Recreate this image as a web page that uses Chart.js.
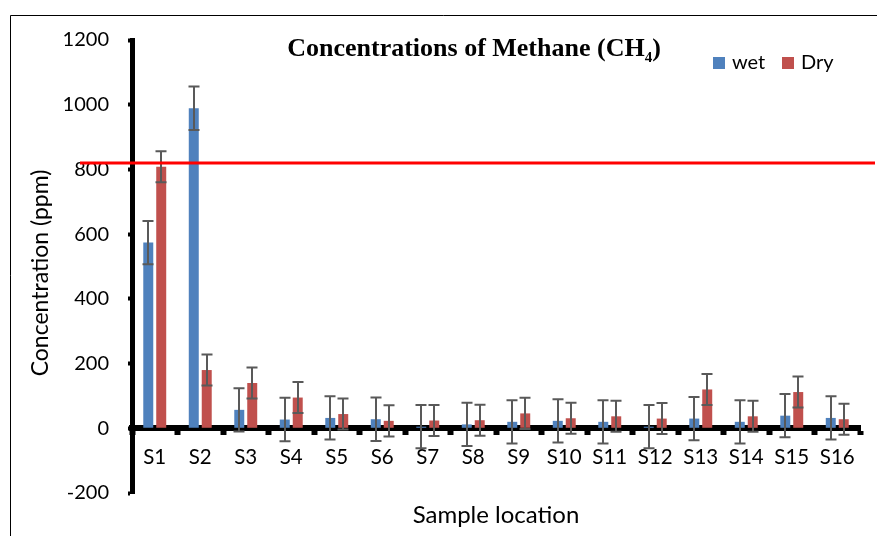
<!DOCTYPE html>
<html>
<head>
<meta charset="utf-8">
<title>Concentrations of Methane (CH4)</title>
<script src="https://cdn.jsdelivr.net/npm/chart.js@4.4.1/dist/chart.umd.min.js"></script>
<style>
  html, body { margin: 0; padding: 0; background: #fff; }
  canvas { display: block; }
</style>
</head>
<body>
<canvas id="methaneChart" width="877" height="536"></canvas>
<script>
// sample sites and measured methane (ppm)
const sites = ['S1', 'S2', 'S3', 'S4', 'S5', 'S6', 'S7', 'S8', 'S9', 'S10', 'S11', 'S12', 'S13', 'S14', 'S15', 'S16'];
const wetPpm = [574, 989, 57, 27, 32, 28, 5, 12, 20, 23, 20, 5, 30, 20, 39, 32];
const dryPpm = [808, 180, 140, 95, 44, 23, 24, 25, 46, 31, 37, 30, 120, 37, 112, 28];
const wetErr = [67, 67, 67, 67, 67, 67, 67, 67, 67, 67, 67, 67, 67, 67, 67, 67];
const dryErr = [48, 48, 48, 48, 48, 48, 48, 48, 48, 48, 48, 48, 48, 48, 48, 48];
const yTicks = [-200, 0, 200, 400, 600, 800, 1000, 1200];
const limitPpm = 820;

const sansFont = 'Lato, "Noto Sans", sans-serif';

// white page + thin frame on the left and top
const frame = {
  id: 'frame',
  beforeDraw(chart) {
    const { ctx, width, height } = chart;
    ctx.save();
    ctx.fillStyle = '#fff';
    ctx.fillRect(0, 0, width, height);
    ctx.strokeStyle = '#000';
    ctx.lineWidth = 1;
    ctx.beginPath();
    ctx.moveTo(10.5, height);
    ctx.lineTo(10.5, 15.5);
    ctx.lineTo(width, 15.5);
    ctx.stroke();
    ctx.restore();
  }
};

// +/- error bars on every bar
const errorBars = {
  id: 'errorBars',
  afterDatasetsDraw(chart) {
    const { ctx } = chart;
    const y = chart.scales.y;
    ctx.save();
    ctx.strokeStyle = '#595959';
    ctx.lineWidth = 2;
    chart.data.datasets.forEach((ds, i) => {
      const meta = chart.getDatasetMeta(i);
      meta.data.forEach((bar, j) => {
        const v = ds.data[j];
        const e = ds.errors[j];
        const top = y.getPixelForValue(v + e);
        const bot = y.getPixelForValue(v - e);
        const x = Math.round(bar.x);
        ctx.beginPath();
        ctx.moveTo(x, top); ctx.lineTo(x, bot);
        ctx.moveTo(x - 5.5, top); ctx.lineTo(x + 5.5, top);
        ctx.moveTo(x - 5.5, bot); ctx.lineTo(x + 5.5, bot);
        ctx.stroke();
      });
    });
    ctx.restore();
  }
};

// red limit line, titles, legend in the top right
const overlay = {
  id: 'overlay',
  afterDraw(chart) {
    const { ctx, chartArea } = chart;
    const y = chart.scales.y;
    ctx.save();

    const ly = y.getPixelForValue(limitPpm);
    ctx.strokeStyle = '#ff0000';
    ctx.lineWidth = 3;
    ctx.beginPath();
    ctx.moveTo(chartArea.left - 52, ly);
    ctx.lineTo(chartArea.right + 15, ly);
    ctx.stroke();

    // main title, CH4 with a subscript
    const main = 'Concentrations of Methane (CH';
    const big = 'bold 26px "Liberation Serif", serif';
    const small = 'bold 15px "Liberation Serif", serif';
    ctx.fillStyle = '#000';
    ctx.textBaseline = 'alphabetic';
    ctx.font = big;
    const w1 = ctx.measureText(main).width;
    const w3 = ctx.measureText(')').width;
    ctx.font = small;
    const w2 = ctx.measureText('4').width;
    let tx = 474 - (w1 + w2 + w3) / 2;
    ctx.font = big;
    ctx.fillText(main, tx, 56);
    tx += w1;
    ctx.font = small;
    ctx.fillText('4', tx, 62);
    tx += w2;
    ctx.font = big;
    ctx.fillText(')', tx, 56);

    // axis titles
    ctx.font = '24px ' + sansFont;
    ctx.textAlign = 'center';
    ctx.textBaseline = 'middle';
    ctx.fillText('Sample location', (chartArea.left + chartArea.right) / 2, 515);

    ctx.save();
    ctx.translate(41, 273);
    ctx.rotate(-Math.PI / 2);
    ctx.font = '23px ' + sansFont;
    ctx.fillText('Concentration (ppm)', 0, 0);
    ctx.restore();

    // legend
    ctx.textAlign = 'left';
    ctx.font = '20px ' + sansFont;
    const legendX = [713, 782];
    chart.data.datasets.forEach((ds, i) => {
      ctx.fillStyle = ds.backgroundColor;
      ctx.fillRect(legendX[i], 57, 12, 12);
      ctx.fillStyle = '#000';
      ctx.fillText(ds.label, legendX[i] + 19, 63);
    });
    ctx.restore();
  }
};

new Chart(document.getElementById('methaneChart'), {
  type: 'bar',
  data: {
    labels: sites,
    datasets: [
      { label: 'wet', data: wetPpm, errors: wetErr, backgroundColor: '#4f81bd' },
      { label: 'Dry', data: dryPpm, errors: dryErr, backgroundColor: '#c0504d' }
    ]
  },
  options: {
    responsive: false,
    animation: false,
    categoryPercentage: 0.57,
    barPercentage: 0.77,
    layout: { padding: { left: 0, right: 17, top: 40, bottom: 43 } },
    plugins: {
      legend: { display: false },
      tooltip: { enabled: false },
      title: { display: false }
    },
    scales: {
      x: {
        position: { y: 0 },
        z: 1,
        grid: { drawOnChartArea: false, offset: true, tickLength: 4, tickWidth: 6, color: '#000' },
        border: { width: 6, color: '#000' },
        ticks: { color: '#000', padding: 13, font: { family: sansFont, size: 20.5 } }
      },
      y: {
        min: -200,
        max: 1200,
        afterBuildTicks: s => { s.ticks = yTicks.map(v => ({ value: v })); },
        afterFit: s => { s.width = 132; },
        grid: { drawOnChartArea: false, tickLength: 4, tickWidth: 4, color: '#000' },
        border: { width: 5, color: '#000' },
        ticks: {
          color: '#000',
          padding: 19,
          font: { family: sansFont, size: 20 },
          callback: v => String(v)
        }
      }
    }
  },
  plugins: [frame, errorBars, overlay]
});
</script>
</body>
</html>
